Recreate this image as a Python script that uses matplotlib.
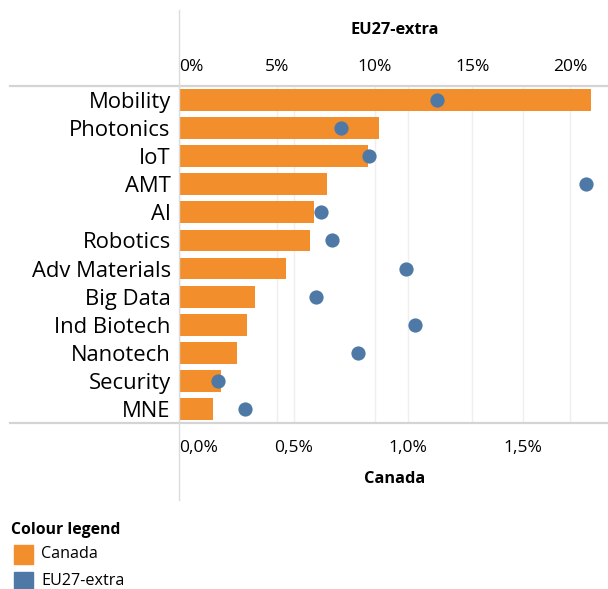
import matplotlib.pyplot as plt
from matplotlib.lines import Line2D
from matplotlib.patches import Rectangle
from matplotlib.ticker import FixedLocator

# Data (shares, in percent)
categories = ["Mobility", "Photonics", "IoT", "AMT", "AI", "Robotics",
              "Adv Materials", "Big Data", "Ind Biotech", "Nanotech",
              "Security", "MNE"]
canada = [1.80, 0.875, 0.825, 0.645, 0.59, 0.57, 0.467, 0.333, 0.297, 0.253, 0.183, 0.148]
eu27_extra = [13.2, 8.3, 9.7, 20.8, 7.25, 7.85, 11.6, 7.0, 12.05, 9.15, 2.0, 3.4]

canada_ticks = [0.0, 0.5, 1.0, 1.5]
eu_ticks = [0, 5, 10, 15, 20]

ORANGE = "#F28E2B"
BLUE = "#4E79A7"
GRID = "#EFEFEF"
RULE = "#D4D4D4"

plt.rcParams["font.family"] = ["Open Sans", "DejaVu Sans"]

W, H = 608, 589
fig = plt.figure(figsize=(W / 100, H / 100), dpi=100)


def px_rect(x0, y0, x1, y1):
    # pixel box (top-left origin) -> figure fraction rect
    return [x0 / W, 1 - y1 / H, (x1 - x0) / W, (y1 - y0) / H]


def fx(x):
    return x / W


def fy(y):
    return 1 - y / H


rect = px_rect(179, 86, 608, 423)
ypos = list(range(len(categories)))
n = len(categories)

# bottom layer: EU27-extra scale (top ticks + grid)
ax_eu = fig.add_axes(rect)
ax_eu.set_xlim(0, 429 / 19.55)
ax_eu.set_ylim(n - 0.5, -0.5)
ax_eu.xaxis.tick_top()
ax_eu.xaxis.set_major_locator(FixedLocator(eu_ticks))
ax_eu.set_xticklabels([f"{t}%" for t in eu_ticks], fontsize=12.5)
ax_eu.set_yticks([])
ax_eu.tick_params(axis="x", length=0, pad=8)
ax_eu.grid(axis="x", color=GRID, linewidth=1)
ax_eu.get_xticklabels()[0].set_horizontalalignment("left")

# middle layer: Canada bars on the bottom axis
ax = fig.add_axes(rect)
ax.patch.set_visible(False)
ax.barh(ypos, canada, height=0.78, color=ORANGE, zorder=2)
ax.set_xlim(0, 429 / 229)
ax.set_ylim(n - 0.5, -0.5)
ax.set_yticks(ypos)
ax.set_yticklabels(categories, fontsize=15.8)
ax.xaxis.set_major_locator(FixedLocator(canada_ticks))
ax.set_xticklabels([f"{t:.1f}%".replace(".", ",") for t in canada_ticks], fontsize=12.5)
ax.tick_params(axis="x", length=0, pad=12)
ax.tick_params(axis="y", length=0, pad=6)
ax.grid(axis="x", color=GRID, linewidth=1, zorder=0)
ax.set_axisbelow(True)
ax.get_xticklabels()[0].set_horizontalalignment("left")

# top layer: EU27-extra dots
ax_dot = fig.add_axes(rect, sharex=ax_eu, sharey=ax_eu)
ax_dot.patch.set_visible(False)
ax_dot.scatter(eu27_extra, ypos, s=105, color=BLUE, linewidths=0)
ax_dot.axis("off")

for a in (ax_eu, ax):
    for s in a.spines.values():
        s.set_visible(False)

# rules round the plot
fig.add_artist(Line2D([fx(10), fx(608)], [fy(86), fy(86)], color=RULE, lw=1.6))
fig.add_artist(Line2D([fx(10), fx(608)], [fy(423), fy(423)], color=RULE, lw=1.6))
fig.add_artist(Line2D([fx(179), fx(179)], [fy(10), fy(500)], color="#DCDCDC", lw=1))

# axis titles
fig.text(fx(395), fy(30), "EU27-extra", ha="center", va="center",
         fontsize=11.8, fontweight="bold")
fig.text(fx(395), fy(479), "Canada", ha="center", va="center",
         fontsize=11.8, fontweight="bold")

# colour legend
fig.text(fx(11), fy(530), "Colour legend", ha="left", va="center",
         fontsize=11.3, fontweight="bold")
legend_items = [("Canada", ORANGE, 554), ("EU27-extra", BLUE, 581)]
for label, colour, yc in legend_items:
    fig.add_artist(Rectangle((fx(14), fy(yc + 10)), 19 / W, 19 / H,
                             transform=fig.transFigure, color=colour))
    fig.text(fx(41), fy(yc), label, ha="left", va="center", fontsize=11.6)

fig.savefig("out.png", dpi=100)
